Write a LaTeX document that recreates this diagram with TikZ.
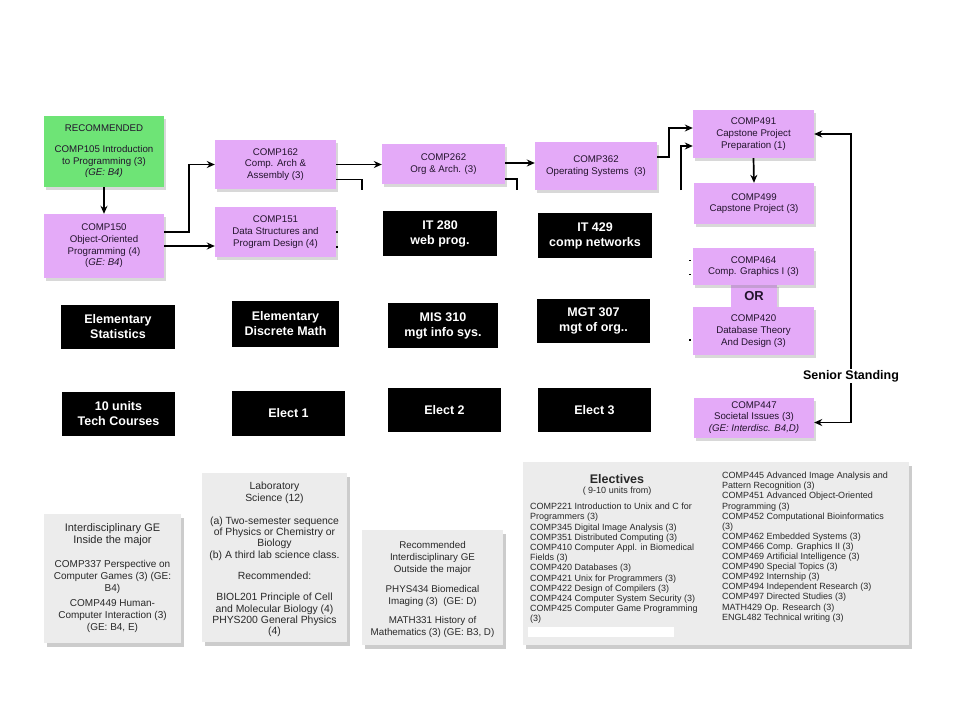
\documentclass[tikz,border=0pt]{standalone}
\usepackage{fontspec}
\setmainfont{Liberation Sans}
\usetikzlibrary{shadows,arrows.meta}
\definecolor{purp}{RGB}{228,170,248}
\definecolor{grn}{RGB}{110,228,118}
\definecolor{gfill}{RGB}{236,236,236}
\definecolor{ptext}{RGB}{35,20,45}
\definecolor{gtext}{RGB}{40,40,40}
\begin{document}
\begin{tikzpicture}[x=1pt,y=-1pt,
  pbox/.style={fill=purp, draw=none, inner sep=0pt, align=center, text=ptext,
    font=\fontsize{9.7}{11.7}\selectfont,
    drop shadow={shadow xshift=2pt,shadow yshift=-3pt,opacity=0.3}},
  gnbox/.style={pbox, fill=grn},
  bbox/.style={fill=black, draw=none, inner sep=0pt, align=center, text=white,
    font=\bfseries\fontsize{12.5}{15}\selectfont},
  gbox/.style={fill=gfill, draw=none, inner sep=0pt,
    drop shadow={shadow xshift=3pt,shadow yshift=-4pt,opacity=0.4}},
  gtxt/.style={inner sep=0pt, align=center, text=gtext},
  arr/.style={line width=1.7pt, -{Stealth[length=8pt,width=7pt]}},
  ln/.style={line width=1.7pt},
  stub/.style={line width=1.2pt}]
\useasboundingbox[fill=white] (0,0) rectangle (960,720);

% ---------- purple / green course boxes ----------
\node[gnbox, minimum width=120pt, minimum height=71pt] (c105) at (104,151.5)
  {RECOMMENDED\\[9pt]COMP105 Introduction\\to Programming (3)\\\textit{(GE: B4)}};
\node[pbox, minimum width=120pt, minimum height=64pt] (c150) at (104,246)
  {COMP150\\Object-Oriented\\Programming (4)\\(\textit{GE: B4})};
\node[pbox, minimum width=121pt, minimum height=49pt] (c162) at (275.5,164.5)
  {COMP162\\Comp. Arch \&\\Assembly (3)};
\node[pbox, minimum width=121pt, minimum height=50pt] (c151) at (275.5,232)
  {COMP151\\Data Structures and\\Program Design (4)};
\node[pbox, minimum width=123pt, minimum height=40pt] (c262) at (443.5,164)
  {COMP262\\Org \& Arch. (3)};
\node[pbox, minimum width=122pt, minimum height=48pt] (c362) at (596,166)
  {COMP362\\Operating Systems~~(3)};
\node[pbox, minimum width=121pt, minimum height=48pt] (c491) at (753.5,134)
  {COMP491\\Capstone Project\\Preparation (1)};
\node[pbox, minimum width=120pt, minimum height=41pt] (c499) at (754,203.5)
  {COMP499\\Capstone Project (3)};
\node[pbox, minimum width=46pt, minimum height=24pt, font=\bfseries\fontsize{13}{15}\selectfont] (or) at (754,296) {OR};
\node[pbox, minimum width=121pt, minimum height=37pt] (c464) at (753.5,266.5)
  {COMP464\\Comp. Graphics I (3)};
\node[pbox, minimum width=121pt, minimum height=48pt] (c420) at (753.5,331)
  {COMP420\\Database Theory\\And Design (3)};
\node[pbox, minimum width=120pt, minimum height=40pt] (c447) at (754,417.5)
  {COMP447\\Societal Issues (3)\\\textit{(GE: Interdisc. B4,D)}};
\node[inner sep=1pt, font=\bfseries\fontsize{12.5}{14}\selectfont] (senior) at (851,376) {Senior Standing};

% ---------- black boxes ----------
\node[bbox, minimum width=114pt, minimum height=45pt] (it280) at (440,233.5) {IT 280\\web prog.};
\node[bbox, minimum width=114pt, minimum height=45pt] (it429) at (595,235.5) {IT 429\\comp networks};
\node[bbox, minimum width=114pt, minimum height=44pt] (stat) at (118,327) {Elementary\\Statistics};
\node[bbox, minimum width=107pt, minimum height=46pt] (dm) at (285.5,324) {Elementary\\Discrete Math};
\node[bbox, minimum width=110pt, minimum height=45pt] (mis) at (443,325.5) {MIS 310\\mgt info sys.};
\node[bbox, minimum width=113pt, minimum height=44pt] (mgt) at (593.5,321) {MGT 307\\mgt of org..};
\node[bbox, minimum width=113pt, minimum height=44pt] (units) at (118.5,414) {10 units\\Tech Courses};
\node[bbox, minimum width=113pt, minimum height=45pt] (el1) at (288.5,413.5) {Elect 1};
\node[bbox, minimum width=113pt, minimum height=44pt] (el2) at (444.5,410) {Elect 2};
\node[bbox, minimum width=113pt, minimum height=44pt] (el3) at (594.5,410) {Elect 3};

% ---------- connectors ----------
\coordinate (cutA) at (362,190);
\coordinate (cutB) at (517,190);
\coordinate (cutC) at (681,190);
\draw[arr] (c105.south) -- (c150.north);
\draw[arr] ([yshift=14pt]c150.east) -- ++(25,0) |- (c162.west);
\draw[arr] (c150.east) -- (c150.east -| c151.west);
\draw[arr] (c162.east) -- (c162.east -| c262.west);
\draw[ln] ([yshift=-15pt]c162.east) -| (cutA);
\draw[arr] ([yshift=1pt]c262.east) -- ([yshift=1pt]c262.east -| c362.west);
\draw[ln] ([yshift=-15pt]c262.east) -| (cutB);
\draw[arr] ([yshift=9pt]c362.east) -- ++(12,0) |- ([yshift=6pt]c491.west);
\draw[arr] (cutC) |- ([yshift=-12pt]c491.west);
\draw[arr] (c491.south) -- (c499.north);
\draw[arr] (senior.north) |- (c491.east);
\draw[arr] (senior.south) |- ([yshift=-5pt]c447.east);
% small connector remnants
\draw[stub] ([xshift=-2pt,yshift=-8pt]c464.west) -- ++(-2,0);
\draw[stub] ([xshift=-2pt,yshift=6pt]c464.west) -- ++(-2,0);
\draw[stub] ([xshift=-2pt,yshift=-9pt]c420.west) -- ++(-2,0);
\draw[stub] (c151.east) -- ++(2,0);
\draw[stub] ([yshift=-15pt]c151.east) -- ++(2,0);

% ---------- grey boxes ----------
\node[gbox, minimum width=137pt, minimum height=129pt] (g1) at (112.5,578) {};
\node[gtxt, font=\fontsize{11}{12}\selectfont] (g1t) at (112.5,535)
  {Interdisciplinary GE\\Inside the major};
\node[gtxt, font=\fontsize{10}{12}\selectfont, anchor=north] (g1b) at (112.5,560)
  {COMP337 Perspective on\\Computer Games (3) (GE:\\B4)\\[3pt]COMP449 Human-\\Computer Interaction (3)\\(GE: B4, E)};

\node[gbox, minimum width=145pt, minimum height=169pt] (g2) at (274.5,557.5) {};
\node[gtxt, font=\fontsize{10.4}{11.3}\selectfont, anchor=north] (g2t) at (274.5,482)
  {Laboratory\\Science (12)\\[12pt](a) Two-semester sequence\\of Physics or Chemistry or\\Biology\\(b) A third lab science class.\\[10pt]Recommended:\\[10pt]BIOL201 Principle of Cell\\and Molecular Biology (4)\\PHYS200 General Physics\\(4)};

\node[gbox, minimum width=141pt, minimum height=115pt] (g3) at (432.5,587.5) {};
\node[gtxt, font=\fontsize{9.8}{12}\selectfont, anchor=north] (g3t) at (432.5,541)
  {Recommended\\Interdisciplinary GE\\Outside the major\\[8pt]PHYS434 Biomedical\\Imaging (3)~~(GE: D)\\[7pt]MATH331 History of\\Mathematics (3) (GE: B3, D)};

\node[gbox, minimum width=386pt, minimum height=183pt] (el) at (716,553) {};
\node[gtxt, font=\bfseries\fontsize{12.5}{14}\selectfont] (eltitle) at (617,479) {Electives};
\node[gtxt, font=\fontsize{9}{10}\selectfont] (elsub) at (617,491) {( 9-10 units from)};
\node[gtxt, align=left, anchor=north west, font=\fontsize{9}{10.2}\selectfont] (elleft) at (530,503)
  {COMP221 Introduction to Unix and C for\\Programmers (3)\\COMP345 Digital Image Analysis (3)\\COMP351 Distributed Computing (3)\\COMP410 Computer Appl. in Biomedical\\Fields (3)\\COMP420 Databases (3)\\COMP421 Unix for Programmers (3)\\COMP422 Design of Compilers (3)\\COMP424 Computer System Security (3)\\COMP425 Computer Game Programming\\(3)};
\node[gtxt, align=left, anchor=north west, font=\fontsize{9}{10.1}\selectfont] (elright) at (722,472)
  {COMP445 Advanced Image Analysis and\\Pattern Recognition (3)\\COMP451 Advanced Object-Oriented\\Programming (3)\\COMP452 Computational Bioinformatics\\(3)\\COMP462 Embedded Systems (3)\\COMP466 Comp. Graphics II (3)\\COMP469 Artificial Intelligence (3)\\COMP490 Special Topics (3)\\COMP492 Internship (3)\\COMP494 Independent Research (3)\\COMP497 Directed Studies (3)\\MATH429 Op. Research (3)\\ENGL482 Technical writing (3)};
\fill[white] (528,627) rectangle (674,637);
\end{tikzpicture}
\end{document}
